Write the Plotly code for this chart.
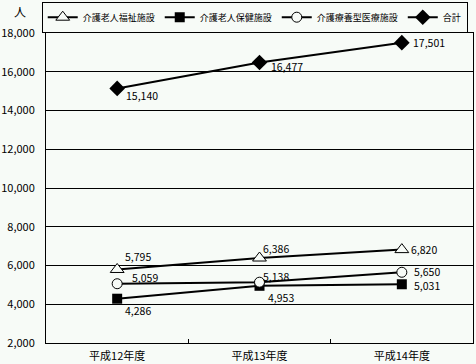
import plotly.graph_objects as go

categories = ["平成12年度", "平成13年度", "平成14年度"]
fukushi = [5795, 6386, 6820]
hoken = [4286, 4953, 5031]
ryoyo = [5059, 5138, 5650]
total = [15140, 16477, 17501]

names = ["介護老人福祉施設", "介護老人保健施設", "介護療養型医療施設", "合計"]
y_ticks = list(range(2000, 18001, 2000))

BG = "#f7fbf7"
FONT = "Noto Sans CJK JP"

def fmt(v):
    return f"{v:,}"

# label offsets in pixels (dx from marker to label's left edge, dy downward)
label_offsets = {
    names[0]: [(6, -13), (1, -10), (7, 0)],
    names[1]: [(6, 12), (6, 12), (10, 1)],
    names[2]: [(13, -6), (1, -6), (10, -1)],
    names[3]: [(7, 7), (9, 4), (9, 0)],
}

fig = go.Figure()

series = [
    (names[0], fukushi, dict(symbol="triangle-up", size=12, color=BG, line=dict(color="black", width=1))),
    (names[1], hoken, dict(symbol="square", size=10, color="black", line=dict(color="black", width=0))),
    (names[2], ryoyo, dict(symbol="circle", size=10, color=BG, line=dict(color="black", width=1))),
    (names[3], total, dict(symbol="diamond", size=12, color="black", line=dict(color="black", width=0))),
]

annotations = []
for name, vals, marker in series:
    fig.add_trace(go.Scatter(
        x=categories, y=vals, name=name, mode="lines+markers",
        line=dict(color="black", width=2), marker=marker,
        cliponaxis=False,
    ))
    for c, v, (dx, dy) in zip(categories, vals, label_offsets[name]):
        annotations.append(dict(
            x=c, y=v, xref="x", yref="y", text=fmt(v), showarrow=False,
            xanchor="left", yanchor="middle", xshift=dx, yshift=-dy,
            font=dict(size=10.5, color="black", family=FONT),
        ))

annotations.append(dict(text="人", x=-0.06, y=1.07, xref="paper", yref="paper",
                        xanchor="center", yanchor="middle",
                        showarrow=False, font=dict(size=12)))

fig.update_layout(
    width=476, height=364,
    margin=dict(l=46, r=3, t=33, b=21, autoexpand=False),
    paper_bgcolor=BG, plot_bgcolor=BG,
    font=dict(family=FONT, size=11, color="black"),
    showlegend=True,
    legend=dict(orientation="h", x=-0.01, xanchor="left", xref="paper",
                y=1.101, yanchor="top", yref="paper",
                bordercolor="black", borderwidth=1, bgcolor=BG,
                font=dict(size=9), itemwidth=30, tracegroupgap=0),
    xaxis=dict(type="category", range=[-0.5, 2.5],
               showline=True, linecolor="black", linewidth=1, mirror=True,
               ticks="inside", ticklen=4, tickcolor="black", tickson="boundaries",
               showgrid=False, tickfont=dict(size=11), ticklabelstandoff=3,
               fixedrange=True),
    yaxis=dict(range=[2000, 18000], tickvals=y_ticks,
               ticktext=[fmt(v) for v in y_ticks],
               showline=True, linecolor="black", linewidth=1, mirror=True,
               showgrid=True, gridcolor="black", gridwidth=1,
               ticks="", tickfont=dict(size=11), ticklabelstandoff=8,
               zeroline=False),
    annotations=annotations,
)
fig.write_html("out.html")
